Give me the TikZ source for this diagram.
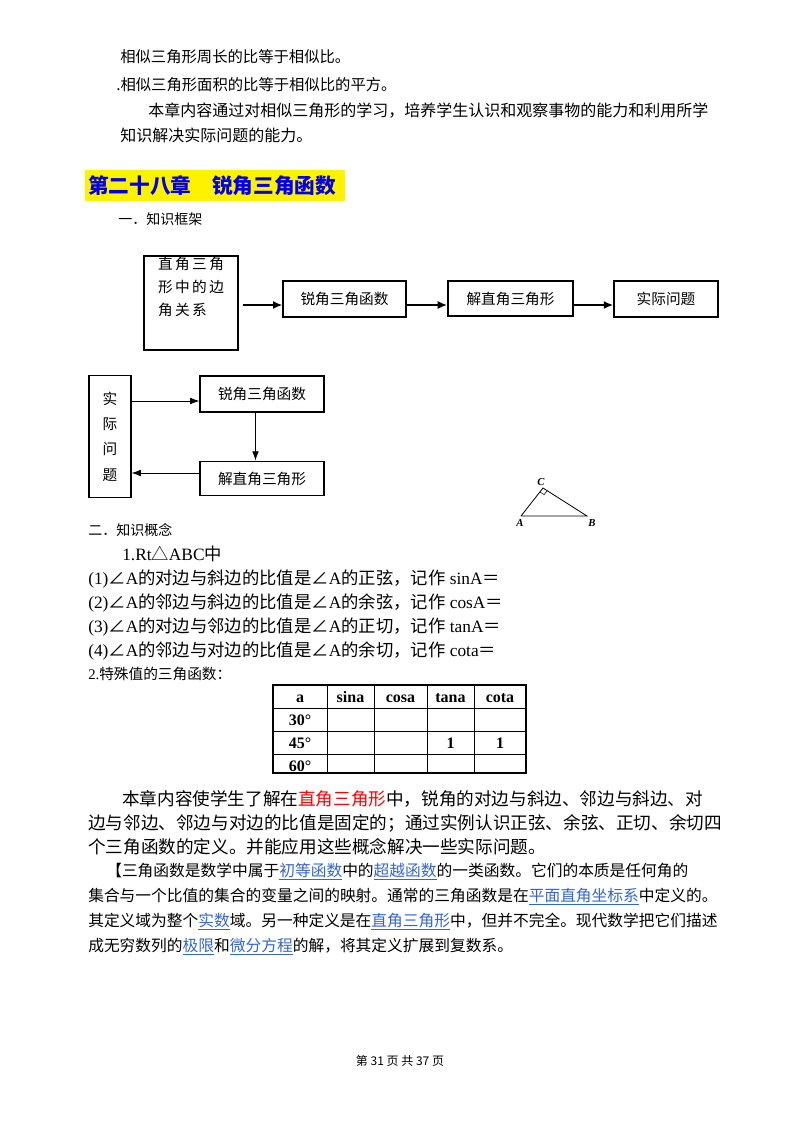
\documentclass[tikz,border=0pt]{standalone}
\usepackage{fontspec}
\setmainfont{Liberation Serif}
\newfontfamily\cjk{Noto Sans CJK SC}
\usetikzlibrary{arrows.meta}
\definecolor{linkblue}{RGB}{51,102,204}
\definecolor{headblue}{RGB}{0,0,230}
\newcommand{\lnk}[1]{\textcolor{linkblue}{\underline{#1}}}
\newcommand{\ang}{{\cjk ∠}}
\tikzset{
  txt/.style={anchor=base west,inner sep=0pt},
  bigbox/.style={draw,line width=1.2pt,inner sep=0pt,font=\cjk\fontsize{11}{13}\selectfont},
  smallbox/.style={draw,line width=0.8pt,inner sep=0pt,font=\cjk\fontsize{11}{13}\selectfont},
  thickarr/.style={line width=1.2pt,-{Latex[length=7pt,width=6pt]}},
  thinarr/.style={line width=0.6pt,-{Latex[length=7pt,width=5pt]}}
}
\begin{document}
\begin{tikzpicture}[x=0.75pt,y=-0.75pt]
  \useasboundingbox (0,0) rectangle (800,1129);
  % intro lines
  \node[txt] (l1) at (120,62) {\cjk\fontsize{11.5}{14}\selectfont 相似三角形周长的比等于相似比。};
  \node[txt] (l2) at (116,90) {\cjk\fontsize{11.5}{14}\selectfont .相似三角形面积的比等于相似比的平方。};
  \node[txt] (l3) at (148,116) {\cjk\fontsize{12}{14}\selectfont 本章内容通过对相似三角形的学习，培养学生认识和观察事物的能力和利用所学};
  \node[txt] (l4) at (120,141) {\cjk\fontsize{12}{14}\selectfont 知识解决实际问题的能力。};
  % heading
  \fill[yellow] (85,170) rectangle (345,201);
  \node[txt] (head) at (88,193) {\cjk\bfseries\fontsize{15.5}{18}\selectfont\color{headblue}第二十八章\hspace{1em}锐角三角函数};
  \node[txt] (sec1) at (118,224) {\cjk\fontsize{10.5}{13}\selectfont 一．知识框架};

  % framework 1
  \node[bigbox,minimum width=70.5pt,minimum height=70.5pt,align=left,
        font=\cjk\fontsize{11}{17}\selectfont] (rt) at (191,303)
    {直\,角\,三\,角\\形\,中\,的\,边\\角\,关\,系\\[8pt]};
  \node[bigbox,minimum width=92pt,minimum height=27pt] (rjhs) at (344.5,299) {锐角三角函数};
  \node[bigbox,minimum width=94pt,minimum height=26pt] (jzj) at (510.5,298.5) {解直角三角形};
  \node[bigbox,minimum width=78pt,minimum height=27pt] (sjwt) at (666,299) {实际问题\hspace{2em}};
  \draw[thickarr] ([xshift=3pt]rt.east |- 0,305) -- (rjhs.west |- 0,305);
  \draw[thickarr] (rjhs.east |- 0,305) -- (jzj.west |- 0,305);
  \draw[thickarr] (jzj.east |- 0,305) -- (sjwt.west |- 0,305);

  % framework 2
  \node[smallbox,minimum width=31.5pt,minimum height=91pt,align=center,
        font=\cjk\fontsize{11}{19}\selectfont] (sj) at (110,436.5)
    {实\\际\\问\\题};
  \node[smallbox,minimum width=93pt,minimum height=27pt] (rj2) at (262,394) {锐角三角函数};
  \node[smallbox,minimum width=93pt,minimum height=26pt] (jz2) at (262,478.5) {解直角三角形};
  \draw[thinarr] (sj.east |- 0,401) -- (rj2.west |- 0,401);
  \draw[thinarr] (rj2.south -| 255.5,0) -- (jz2.north -| 255.5,0);
  \draw[thinarr] (jz2.west |- 0,473) -- (sj.east |- 0,473);

  % triangle
  \coordinate (A) at (521,516);
  \coordinate (B) at (587,516);
  \coordinate (C) at (543,488);
  \draw[line width=0.6pt] (A) -- (C) -- (B) -- (A);
  \draw[line width=0.4pt] (539.9,491.9) -- (544.1,494.6) -- (547.2,490.7);
  \node[font=\itshape\bfseries\fontsize{8}{9}\selectfont,inner sep=0pt] (la) at (520,523) {A};
  \node[font=\itshape\bfseries\fontsize{8}{9}\selectfont,inner sep=0pt] (lb) at (592,523) {B};
  \node[font=\itshape\bfseries\fontsize{8}{9}\selectfont,inner sep=0pt] (lc) at (541,482) {C};

  % concepts
  \node[txt] (sec2) at (88,535) {\cjk\fontsize{10.5}{13}\selectfont 二．知识概念};
  \node[txt] (c0) at (122,560) {\fontsize{13}{15}\selectfont 1.Rt{\cjk △}ABC{\cjk 中}};
  \node[txt] (c1) at (88,584) {\fontsize{13}{15}\selectfont (1)\ang A{\cjk 的对边与斜边的比值是}\ang A{\cjk 的正弦，记作} sinA{\cjk ＝}};
  \node[txt] (c2) at (88,608) {\fontsize{13}{15}\selectfont (2)\ang A{\cjk 的邻边与斜边的比值是}\ang A{\cjk 的余弦，记作} cosA{\cjk ＝}};
  \node[txt] (c3) at (88,632) {\fontsize{13}{15}\selectfont (3)\ang A{\cjk 的对边与邻边的比值是}\ang A{\cjk 的正切，记作} tanA{\cjk ＝}};
  \node[txt] (c4) at (88,656) {\fontsize{13}{15}\selectfont (4)\ang A{\cjk 的邻边与对边的比值是}\ang A{\cjk 的余切，记作} cota{\cjk ＝}};
  \node[txt] (c5) at (88,679) {\fontsize{11}{13}\selectfont 2.{\cjk 特殊值的三角函数：}};

  % table
  \draw[line width=0.8pt] (273,685) rectangle (526,773);
  \foreach \xx in {327,374,427,474} \draw[line width=0.6pt] (\xx,685) -- (\xx,773);
  \foreach \yy in {708,731,754} \draw[line width=0.6pt] (273,\yy) -- (526,\yy);
  \foreach \xx/\hd in {300/a,350.5/sina,400.5/cosa,450.5/tana,500/cota}
    \node[font=\bfseries\fontsize{12}{14}\selectfont,anchor=base] at (\xx,702) {\hd};
  \foreach \yy/\dg in {725/30,748/45,771/60}
    \node[font=\bfseries\fontsize{12}{14}\selectfont,anchor=base] at (300,\yy) {\dg°};
  \node[font=\bfseries\fontsize{12}{14}\selectfont,anchor=base] (t1) at (450.5,748) {1};
  \node[font=\bfseries\fontsize{12}{14}\selectfont,anchor=base] (t2) at (500,748) {1};

  % summary paragraph
  \node[txt] (p1) at (122,805) {\cjk\fontsize{13.2}{16}\selectfont 本章内容使学生了解在\textcolor{red}{直角三角形}中，锐角的对边与斜边、邻边与斜边、对};
  \node[txt] (p2) at (88,829) {\cjk\fontsize{13.2}{16}\selectfont 边与邻边、邻边与对边的比值是固定的；通过实例认识正弦、余弦、正切、余切四};
  \node[txt] (p3) at (88,853) {\cjk\fontsize{13.2}{16}\selectfont 个三角函数的定义。并能应用这些概念解决一些实际问题。};

  % bracket paragraph
  \node[txt] (q1) at (106,876) {\cjk\fontsize{11.8}{14}\selectfont 【三角函数是数学中属于\lnk{初等函数}中的\lnk{超越函数}的一类函数。它们的本质是任何角的};
  \node[txt] (q2) at (88,901) {\cjk\fontsize{11.8}{14}\selectfont 集合与一个比值的集合的变量之间的映射。通常的三角函数是在\lnk{平面直角坐标系}中定义的。};
  \node[txt] (q3) at (88,926) {\cjk\fontsize{11.8}{14}\selectfont 其定义域为整个\lnk{实数}域。另一种定义是在\lnk{直角三角形}中，但并不完全。现代数学把它们描述};
  \node[txt] (q4) at (88,951) {\cjk\fontsize{11.8}{14}\selectfont 成无穷数列的\lnk{极限}和\lnk{微分方程}的解，将其定义扩展到复数系。};

  % footer
  \node[anchor=base,inner sep=0pt] (foot) at (400,1065) {\cjk\fontsize{9}{11}\selectfont 第 31 页 共 37 页};
\end{tikzpicture}
\end{document}
